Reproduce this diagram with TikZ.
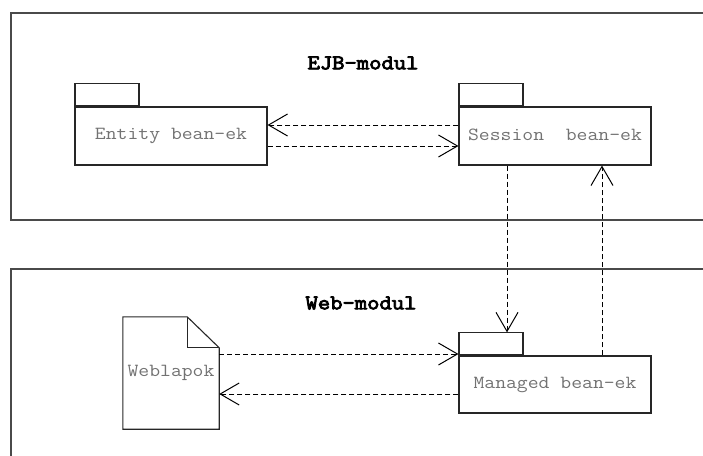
\documentclass[tikz,border=0pt]{standalone}
\usepackage{fontspec}
\newfontfamily\lblfont{Latin Modern Mono}[FakeStretch=1.14]
\newfontfamily\ttlfont{Latin Modern Mono}[FakeStretch=1.14, FakeBold=4]
\usetikzlibrary{arrows.meta}
\definecolor{framegray}{HTML}{4A4A4A}
\definecolor{labelgray}{HTML}{727272}
\tikzset{
  modframe/.style={draw=framegray, line width=1.3pt},
  modtitle/.style={font=\ttlfont\fontsize{21}{23}\selectfont, text=black, inner sep=0pt},
  pkgbody/.style={draw=black!85, line width=1.1pt, minimum width=192pt, minimum height=58pt, inner sep=0pt,
    font=\lblfont\fontsize{18.5}{20}\selectfont, text=labelgray},
  pkgtab/.style={draw=black!85, line width=1.1pt, minimum width=64pt, minimum height=22pt, inner sep=0pt, anchor=south west},
  docshape/.style={minimum width=96pt, minimum height=112pt, inner sep=0pt,
    font=\lblfont\fontsize{18.5}{20}\selectfont, text=labelgray},
  dep/.style={draw=black, line width=1pt, dash pattern=on 5pt off 3pt,
    -{Straight Barb[length=19pt,width=22pt,line width=1pt]}},
}
\begin{document}
\begin{tikzpicture}[x=1pt,y=-1pt]
\useasboundingbox (0,0) rectangle (703,455);
\clip (0,0) rectangle (703,455);
% module frames
\draw[modframe] (715,13) -- (11,13) -- (11,220) -- (715,220);
\draw[modframe] (715,269) -- (11,269) -- (11,470);
\node[modtitle] (ejbtitle) at (363,63) {EJB-modul};
\node[modtitle] (webtitle) at (361,303) {Web-modul};
% packages
\node[pkgbody] (entity) at (171,136) {\raisebox{3pt}{Entity bean-ek}};
\node[pkgtab] (etab) at (entity.north west) {};
\node[pkgbody] (session) at (555,136) {\raisebox{3pt}{Session\ \ bean-ek}};
\node[pkgtab] (stab) at (session.north west) {};
\node[pkgbody, minimum height=57pt] (managed) at (555,384.5) {\raisebox{3pt}{Managed bean-ek}};
\node[pkgtab] (mtab) at (managed.north west) {};
% document
\node[docshape] (doc) at (171,373) {Weblapok};
\draw[draw=black!85, line width=1.1pt]
  (doc.north west) -- ([xshift=-32pt]doc.north east) -- ([yshift=-31pt]doc.north east)
  -- (doc.south east) -- (doc.south west) -- cycle;
\draw[draw=black!85, line width=1.1pt]
  ([xshift=-32pt]doc.north east) -- ([xshift=-32pt,yshift=-31pt]doc.north east) -- ([yshift=-31pt]doc.north east);
% dependencies
\draw[dep] ([yshift=11pt]session.west) -- ([yshift=11pt]session.west -| entity.east);
\draw[dep] ([yshift=-10pt]entity.east) -- ([yshift=-10pt]entity.east -| session.west);
\draw[dep] ([xshift=-48pt]session.south) -- ([xshift=-48pt]session.south |- mtab.north);
\draw[dep] ([xshift=47pt]managed.north) -- ([xshift=47pt]managed.north |- session.south);
\draw[dep] ([yshift=30.5pt]managed.west -| doc.east) -- ([yshift=30.5pt]managed.west);
\draw[dep] ([yshift=-9.5pt]managed.west) -- ([yshift=-9.5pt]managed.west -| doc.east);
\end{tikzpicture}
\end{document}
